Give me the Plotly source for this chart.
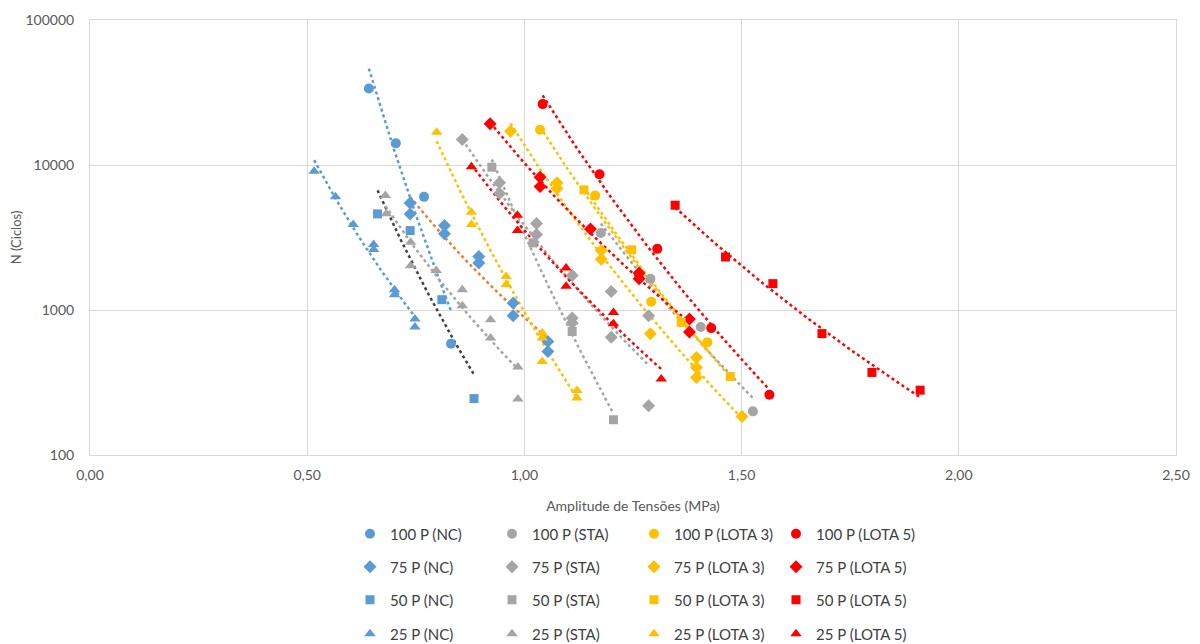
import numpy as np
import plotly.graph_objects as go

# ---------------- data ----------------
x_100_nc = [0.642, 0.704, 0.769, 0.831]
n_100_nc = [33700, 14100, 6030, 585]
x_100_sta = [1.176, 1.290, 1.406, 1.526]
n_100_sta = [3400, 1640, 763, 200]
x_100_l3 = [1.036, 1.163, 1.292, 1.421]
n_100_l3 = [17500, 6150, 1140, 598]
x_100_l5 = [1.042, 1.173, 1.306, 1.430, 1.564]
n_100_l5 = [26300, 8640, 2640, 750, 260]

x_75_nc = [0.737, 0.737, 0.816, 0.816, 0.895, 0.895, 0.974, 0.974, 1.054, 1.054]
n_75_nc = [5480, 4600, 3820, 3360, 2340, 2110, 1117, 914, 607, 518]
x_75_sta = [0.857, 0.943, 0.943, 1.028, 1.028, 1.110, 1.110, 1.110, 1.200, 1.200, 1.286, 1.286]
n_75_sta = [15000, 7540, 6360, 3950, 3310, 1730, 881, 813, 1343, 648, 914, 219]
x_75_l3 = [0.968, 1.075, 1.075, 1.177, 1.177, 1.290, 1.396, 1.396, 1.396, 1.501]
n_75_l3 = [17100, 7540, 6880, 2570, 2240, 687, 471, 402, 343, 184]
x_75_l5 = [0.921, 1.036, 1.036, 1.152, 1.264, 1.264, 1.380, 1.380]
n_75_l5 = [19250, 8240, 7100, 3620, 1800, 1640, 867, 705]

x_50_nc = [0.662, 0.737, 0.810, 0.884]
n_50_nc = [4600, 3530, 1178, 245]
x_50_sta = [0.925, 1.020, 1.110, 1.205]
n_50_sta = [9660, 2900, 711, 175]
x_50_l3 = [1.137, 1.247, 1.361, 1.474]
n_50_l3 = [6740, 2600, 820, 348]
x_50_l5 = [1.347, 1.463, 1.572, 1.685, 1.800, 1.911]
n_50_l5 = [5280, 2320, 1520, 687, 371, 280]

x_25_nc = [0.516, 0.565, 0.606, 0.653, 0.653, 0.701, 0.701, 0.748, 0.748]
n_25_nc = [9060, 6030, 3880, 2830, 2610, 1380, 1276, 867, 763]
x_25_sta = [0.680, 0.682, 0.738, 0.738, 0.797, 0.857, 0.857, 0.922, 0.922, 0.985, 0.985]
n_25_sta = [6150, 4620, 2930, 2020, 1876, 1380, 1071, 857, 641, 404, 243]
x_25_l3 = [0.798, 0.878, 0.878, 0.958, 0.958, 1.041, 1.041, 1.041, 1.121, 1.121]
n_25_l3 = [16850, 4720, 3880, 1700, 1500, 694, 641, 442, 279, 247]
x_25_l5 = [0.878, 0.984, 0.984, 1.096, 1.096, 1.205, 1.205, 1.315]
n_25_l5 = [9720, 4500, 3530, 1950, 1456, 962, 804, 334]

x_ticks = [0.0, 0.5, 1.0, 1.5, 2.0, 2.5]
x_tick_labels = ["0,00", "0,50", "1,00", "1,50", "2,00", "2,50"]
y_ticks = [100, 1000, 10000, 100000]
y_tick_labels = ["100", "1000", "10000", "100000"]

BLUE, GREY, YELLOW, RED = "#5B9BD5", "#A5A5A5", "#FFC000", "#FF0000"

# (name, x, n, marker colour, symbol, size, trendline colour, legend row)
series = [
    ("100 P (NC)", x_100_nc, n_100_nc, BLUE, "circle", 10, BLUE, 1),
    ("100 P (STA)", x_100_sta, n_100_sta, GREY, "circle", 10, GREY, 1),
    ("100 P (LOTA 3)", x_100_l3, n_100_l3, YELLOW, "circle", 10, YELLOW, 1),
    ("100 P (LOTA 5)", x_100_l5, n_100_l5, RED, "circle", 10, RED, 1),
    ("75 P (NC)", x_75_nc, n_75_nc, BLUE, "diamond", 10, "#ED7D31", 2),
    ("75 P (STA)", x_75_sta, n_75_sta, GREY, "diamond", 10, GREY, 2),
    ("75 P (LOTA 3)", x_75_l3, n_75_l3, YELLOW, "diamond", 10, YELLOW, 2),
    ("75 P (LOTA 5)", x_75_l5, n_75_l5, RED, "diamond", 10, RED, 2),
    ("50 P (NC)", x_50_nc, n_50_nc, BLUE, "square", 9, "#404040", 3),
    ("50 P (STA)", x_50_sta, n_50_sta, GREY, "square", 9, GREY, 3),
    ("50 P (LOTA 3)", x_50_l3, n_50_l3, YELLOW, "square", 9, YELLOW, 3),
    ("50 P (LOTA 5)", x_50_l5, n_50_l5, RED, "square", 9, RED, 3),
    ("25 P (NC)", x_25_nc, n_25_nc, BLUE, "triangle-up", 10, BLUE, 4),
    ("25 P (STA)", x_25_sta, n_25_sta, GREY, "triangle-up", 10, GREY, 4),
    ("25 P (LOTA 3)", x_25_l3, n_25_l3, YELLOW, "triangle-up", 10, YELLOW, 4),
    ("25 P (LOTA 5)", x_25_l5, n_25_l5, RED, "triangle-up", 10, RED, 4),
]

FONT = "Lato"
OFF = 8  # page body margin offset
fig = go.Figure()

# power-law trendlines (fitted from data, like Excel)
for name, xs, ns, col, sym, sz, tcol, row in series:
    lx, ln = np.log(xs), np.log(ns)
    b, a = np.polyfit(lx, ln, 1)
    xx = np.linspace(min(xs), max(xs), 60)
    yy = np.exp(a) * xx ** b
    fig.add_trace(go.Scatter(x=xx, y=yy, mode="lines", showlegend=False,
                             hoverinfo="skip",
                             line=dict(color=tcol, width=2.5, dash="dot")))

legend_ids = {1: "legend", 2: "legend2", 3: "legend3", 4: "legend4"}
for name, xs, ns, col, sym, sz, tcol, row in series:
    fig.add_trace(go.Scatter(x=xs, y=ns, mode="markers", name=name,
                             legend=legend_ids[row],
                             marker=dict(color=col, symbol=sym, size=sz,
                                         line=dict(width=0))))

# plot area in page pixels
pl, pr, pt, pb = 90, 1176, 20, 455
ph = pb - pt
pw = pr - pl
row_y = [534, 567, 600, 634]

def leg(py):
    return dict(orientation="h", x=(350 - pl) / pw, xanchor="left",
                y=(pb - py) / ph, yanchor="middle",
                entrywidth=97, entrywidthmode="pixels",
                font=dict(family=FONT, size=15, color="#404040"),
                bgcolor="rgba(0,0,0,0)", itemwidth=30)

fig.update_layout(
    width=1200, height=644,
    margin=dict(l=pl - OFF, r=1200 - (pr - OFF), t=pt - OFF, b=644 - (pb - OFF),
                autoexpand=False),
    paper_bgcolor="white", plot_bgcolor="white",
    font=dict(family=FONT, size=14, color="#595959"),
    legend=leg(row_y[0]), legend2=leg(row_y[1]),
    legend3=leg(row_y[2]), legend4=leg(row_y[3]),
    xaxis=dict(range=[0, 2.5], tickvals=x_ticks, ticktext=x_tick_labels,
               showgrid=True, gridcolor="#D9D9D9", gridwidth=1,
               showline=True, linecolor="#D9D9D9", mirror=True,
               zeroline=False, ticks="outside", ticklen=7, tickcolor="rgba(0,0,0,0)",
               automargin=False,
               tickfont=dict(family=FONT, size=14, color="#595959"),
               title=dict(text="Amplitude de Tensões (MPa)", standoff=19,
                          font=dict(family=FONT, size=14, color="#595959"))),
    yaxis=dict(type="log", range=[2, 5], tickvals=y_ticks, ticktext=y_tick_labels,
               showgrid=True, gridcolor="#D9D9D9", gridwidth=1,
               showline=True, linecolor="#D9D9D9", mirror=True,
               zeroline=False, ticks="outside", ticklen=12, tickcolor="rgba(0,0,0,0)",
               automargin=False,
               tickfont=dict(family=FONT, size=14, color="#595959"),
               title=dict(text="N (Ciclos)", standoff=8,
                          font=dict(family=FONT, size=13, color="#595959"))),
)

fig.write_html("out.html")
